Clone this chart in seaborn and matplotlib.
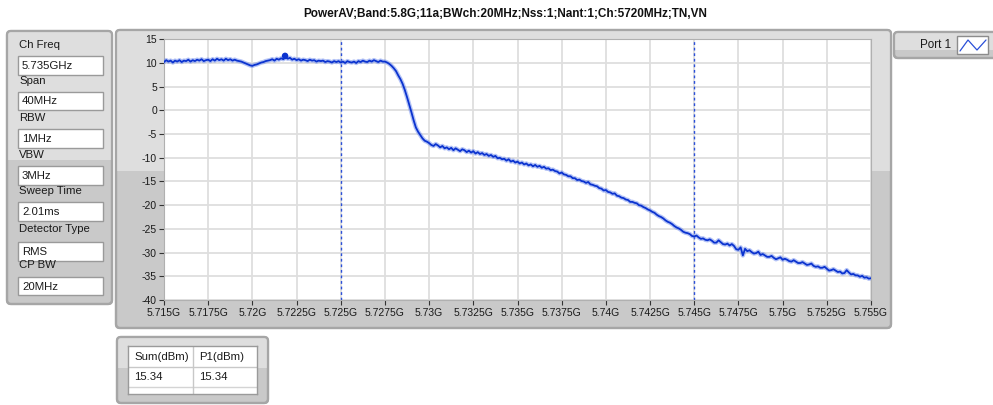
import numpy as np
import pandas as pd
import seaborn as sns
import matplotlib
matplotlib.use("Agg")
import matplotlib.pyplot as plt
from matplotlib.patches import FancyBboxPatch, Rectangle
from matplotlib.lines import Line2D
from matplotlib.transforms import IdentityTransform

# ---------------- data ----------------
title = "PowerAV;Band:5.8G;11a;BWch:20MHz;Nss:1;Nant:1;Ch:5720MHz;TN,VN"
start_ghz = 5.715
step_mhz = 0.125
power_dbm = [
    10.2, 10.6, 10.3, 10.5, 10.1, 10.5, 10.3, 10.6,
    10.2, 10.5, 10.4, 10.7, 10.3, 10.6, 10.4, 10.7,
    10.5, 10.8, 10.4, 10.6, 10.7, 10.4, 10.8, 10.5,
    10.9, 10.6, 10.8, 10.5, 10.9, 10.6, 10.8, 10.5,
    10.7, 10.5, 10.4, 10.3, 10.1, 9.9, 9.7, 9.5,
    9.4, 9.6, 9.7, 9.9, 10.1, 10.2, 10.4, 10.5,
    10.6, 10.8, 10.5, 10.9, 10.7, 11.0, 10.8, 11.2,
    10.9, 11.1, 10.7, 10.9, 10.6, 10.8, 10.5, 10.7,
    10.6, 10.4, 10.7, 10.5, 10.6, 10.3, 10.5, 10.4,
    10.5, 10.2, 10.4, 10.3, 10.1, 10.4, 10.2, 10.4,
    10.1, 10.3, 10.0, 10.4, 10.2, 10.1, 10.3, 10.0,
    10.4, 10.2, 10.5, 10.3, 10.2, 10.5, 10.3, 10.6,
    10.4, 10.2, 10.5, 10.3, 10.3, 10.1, 9.8, 9.4,
    8.9, 8.3, 7.4, 6.6, 5.6, 4.3, 2.8, 1.2,
    -0.4, -2.1, -3.6, -4.5, -5.2, -5.9, -6.4, -6.6,
    -6.9, -7.3, -7.5, -7.1, -7.4, -7.8, -7.5, -8.0,
    -7.8, -8.2, -7.9, -8.4, -8.0, -8.3, -8.6, -8.2,
    -8.4, -8.8, -8.5, -8.9, -8.6, -9.1, -8.8, -9.2,
    -9.0, -9.4, -9.2, -9.6, -9.4, -9.8, -9.6, -10.1,
    -10.0, -10.3, -10.2, -10.6, -10.3, -10.8, -10.6, -11.0,
    -10.8, -11.2, -11.0, -11.4, -11.2, -11.6, -11.4, -11.8,
    -11.5, -11.9, -11.7, -12.1, -11.9, -12.3, -12.2, -12.6,
    -12.5, -12.8, -12.9, -13.3, -13.1, -13.5, -13.6, -13.9,
    -13.9, -14.3, -14.3, -14.7, -14.6, -14.9, -15.0, -15.3,
    -15.1, -15.6, -15.7, -15.9, -16.0, -16.4, -16.5, -16.9,
    -16.8, -17.2, -17.3, -17.6, -17.5, -18.0, -18.1, -18.4,
    -18.5, -18.8, -18.9, -19.3, -19.3, -19.5, -19.6, -20.0,
    -20.1, -20.4, -20.6, -20.9, -21.1, -21.4, -21.6, -22.0,
    -22.3, -22.5, -22.8, -23.2, -23.5, -23.7, -24.0, -24.4,
    -24.7, -24.9, -25.2, -25.6, -25.8, -25.9, -26.1, -26.5,
    -26.6, -26.4, -26.8, -27.1, -27.0, -27.3, -27.4, -27.2,
    -27.5, -27.9, -27.9, -27.4, -27.8, -28.2, -28.3, -28.1,
    -28.5, -28.2, -28.6, -29.3, -29.4, -28.9, -30.6, -29.2,
    -29.7, -29.5, -29.9, -30.2, -30.1, -29.8, -30.5, -30.3,
    -30.6, -30.9, -30.9, -30.7, -31.1, -31.4, -31.2, -31.0,
    -31.5, -31.3, -31.5, -31.8, -31.9, -31.6, -31.9, -32.2,
    -32.2, -32.0, -32.3, -32.6, -32.5, -32.3, -32.8, -33.0,
    -32.9, -33.2, -33.2, -33.0, -33.4, -33.8, -33.7, -33.5,
    -33.8, -34.1, -34.0, -34.4, -34.3, -33.7, -34.2, -34.6,
    -34.5, -34.8, -34.8, -35.1, -34.9, -35.3, -35.2, -35.5,
    -35.4,
]
freq_ghz = start_ghz + np.arange(len(power_dbm)) * step_mhz / 1000.0

marker_freq = [5.72185]
marker_power = [11.5]
cursor_freqs = [5.725, 5.745]

xtick_vals = [5.715, 5.7175, 5.72, 5.7225, 5.725, 5.7275, 5.73, 5.7325, 5.735,
              5.7375, 5.74, 5.7425, 5.745, 5.7475, 5.75, 5.7525, 5.755]
xtick_labels = ["5.715G", "5.7175G", "5.72G", "5.7225G", "5.725G", "5.7275G",
                "5.73G", "5.7325G", "5.735G", "5.7375G", "5.74G", "5.7425G",
                "5.745G", "5.7475G", "5.75G", "5.7525G", "5.755G"]
ytick_vals = [15, 10, 5, 0, -5, -10, -15, -20, -25, -30, -35, -40]

settings_labels = ["Ch Freq", "Span", "RBW", "VBW", "Sweep Time", "Detector Type", "CP BW"]
settings_values = ["5.735GHz", "40MHz", "1MHz", "3MHz", "2.01ms", "RMS", "20MHz"]

table_headers = ["Sum(dBm)", "P1(dBm)"]
table_values = ["15.34", "15.34"]
legend_label = "Port 1"

# ---------------- style ----------------
sns.set_style("white")
plt.rcParams['font.family'] = ['Liberation Sans', 'DejaVu Sans']

W, H = 993, 405
fig = plt.figure(figsize=(W / 100, H / 100), dpi=100)
fig.patch.set_facecolor("white")
IDT = IdentityTransform()

def py(y):
    return H - y

def panel(x0, y0, x1, y1, split, light="#dedede", dark="#c9c9c9", edge="#a6a6a6", r=4):
    base = FancyBboxPatch((x0, py(y1)), x1 - x0, y1 - y0,
                          boxstyle=f"round,pad=0,rounding_size={r}",
                          transform=IDT, facecolor=dark, edgecolor=edge,
                          linewidth=1.6, zorder=-10)
    fig.add_artist(base)
    top = Rectangle((x0, py(split)), x1 - x0, split - y0, transform=IDT,
                    facecolor=light, edgecolor="none", zorder=-9)
    top.set_clip_path(base)
    fig.add_artist(top)
    outline = FancyBboxPatch((x0, py(y1)), x1 - x0, y1 - y0,
                             boxstyle=f"round,pad=0,rounding_size={r}",
                             transform=IDT, facecolor="none", edgecolor=edge,
                             linewidth=1.6, zorder=-8)
    fig.add_artist(outline)

def box(x0, y0, x1, y1, fc="white", ec="#9a9a9a", z=2, lw=1.0):
    fig.add_artist(Rectangle((x0, py(y1)), x1 - x0, y1 - y0, transform=IDT,
                             facecolor=fc, edgecolor=ec, linewidth=lw, zorder=z))

def text(x, y, s, **kw):
    kw.setdefault("fontsize", 8.2)
    kw.setdefault("color", "#1a1a1a")
    kw.setdefault("va", "center")
    kw.setdefault("ha", "left")
    kw.setdefault("zorder", 5)
    fig.text(x / W, 1 - y / H, s, **kw)

# panels
panel(7, 31, 112, 304, 160)
panel(116, 30, 891, 328, 171)
panel(117, 337, 268, 403, 368)
panel(894, 32, 1000, 58, 50)

# title
text(505, 14, title, ha="center", fontsize=8.5, fontweight="bold", color="#111111")

# left settings panel
label_y = [45, 81, 118, 155, 191, 229, 265]
box_y = [(56, 75), (92, 110), (129, 148), (166, 185), (202, 221), (242, 261), (277, 295)]
for lab, val, ly, (b0, b1) in zip(settings_labels, settings_values, label_y, box_y):
    box(18, b0, 103, b1)
    text(22, (b0 + b1) / 2 + 0.5, val)
    text(19, ly, lab, zorder=6)

# table as its own small axes (white cells)
tx0, ty0, tx1, ty1 = 128, 346, 257, 394
tab = fig.add_axes([tx0 / W, 1 - ty1 / H, (tx1 - tx0) / W, (ty1 - ty0) / H])
tab.set_facecolor("white")
tab.set_xlim(tx0, tx1)
tab.set_ylim(ty1, ty0)
tab.set_xticks([])
tab.set_yticks([])
for s in tab.spines.values():
    s.set_color("#9a9a9a")
    s.set_linewidth(1.0)
tab.axhline(367, color="#c8c8c8", lw=1)
tab.axhline(387, color="#d4d4d4", lw=1)
tab.axvline(193, color="#c8c8c8", lw=1)
tab.text(134, 357, table_headers[0], va="center", ha="left", fontsize=8.2, color="#1a1a1a")
tab.text(199, 357, table_headers[1], va="center", ha="left", fontsize=8.2, color="#1a1a1a")
tab.text(134, 377, table_values[0], va="center", ha="left", fontsize=8.2, color="#1a1a1a")
tab.text(199, 377, table_values[1], va="center", ha="left", fontsize=8.2, color="#1a1a1a")

# legend
text(920, 45, legend_label, fontsize=8.4)
box(957, 36, 988, 54, fc="white", ec="#8c8c8c")
fig.add_artist(Line2D([960, 968, 977, 986], [py(51), py(40), py(50), py(40)],
                      transform=IDT, color="#2a4fd8", lw=0.9, zorder=4))

# ---------------- chart ----------------
ax = fig.add_axes([164 / W, 1 - 300 / H, 707 / W, 260.7 / H])
ax.set_zorder(1)
ax.set_facecolor("white")
df = pd.DataFrame({"freq": freq_ghz, "power": power_dbm})

for f in cursor_freqs:
    ax.axvline(f, color="#2a4fd8", lw=1.0, ls=(0, (2, 2)), zorder=2)

sns.lineplot(data=df, x="freq", y="power", ax=ax, color="#6a88ee", lw=3.2,
             alpha=0.5, zorder=3, errorbar=None)
sns.lineplot(data=df, x="freq", y="power", ax=ax, color="#0b33cf", lw=1.3,
             zorder=4, errorbar=None)
sns.scatterplot(x=marker_freq, y=marker_power, ax=ax, color="#0b33cf", s=22,
                edgecolor="none", zorder=5)

ax.set_xlim(xtick_vals[0], xtick_vals[-1])
ax.set_ylim(-40, 15)
ax.set_xticks(xtick_vals)
ax.set_xticklabels(xtick_labels)
ax.set_yticks(ytick_vals)
ax.set_yticklabels([str(v) for v in ytick_vals])
ax.set_xlabel("")
ax.set_ylabel("")
ax.grid(True, color="#dedede", lw=1.3)
ax.set_axisbelow(True)
for s in ax.spines.values():
    s.set_color("#b0b0b0")
    s.set_linewidth(0.8)
ax.tick_params(axis="both", which="both", direction="out", length=3.6, width=0.8,
               color="#333333", labelsize=7.5, labelcolor="#1a1a1a")
ax.tick_params(axis="y", pad=1.5, left=True)
ax.tick_params(axis="x", pad=2.5, bottom=True)

fig.savefig("out.png", dpi=100)
